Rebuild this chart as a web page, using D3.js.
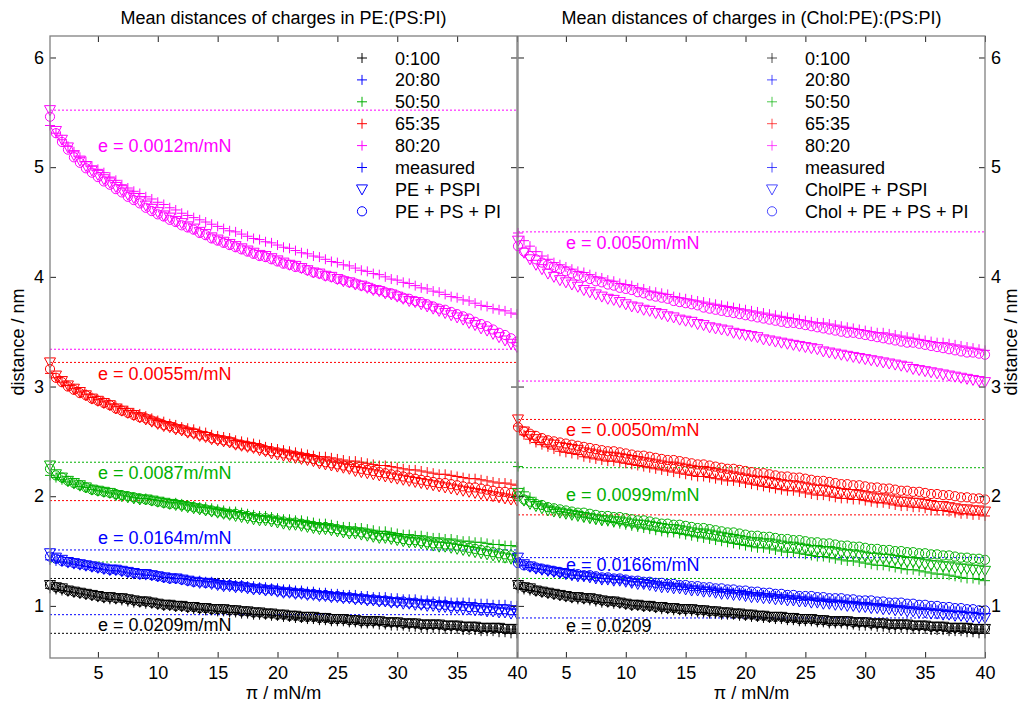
<!DOCTYPE html>
<html>
<head>
<meta charset="utf-8">
<script src="https://cdn.jsdelivr.net/npm/d3@7"></script>
<style>
  body { margin: 0; background: #fff; }
  text { font-family: "Liberation Sans", Arial, Helvetica, sans-serif; }
</style>
</head>
<body>
<svg id="chart" width="1029" height="711"></svg>
<script>
// Surface pressure (mN/m) at which each distance was evaluated
const pressure = [1,1.5,2,2.5,3,3.5,4,4.5,5,5.5,6,6.5,7,7.5,8,8.5,9,9.5,10,10.5,11,11.5,12,12.5,13,13.5,14,14.5,15,15.5,16,16.5,17,17.5,18,18.5,19,19.5,20,20.5,21,21.5,22,22.5,23,23.5,24,24.5,25,25.5,26,26.5,27,27.5,28,28.5,29,29.5,30,30.5,31,31.5,32,32.5,33,33.5,34,34.5,35,35.5,36,36.5,37,37.5,38,38.5,39,39.5,40];

const compositions = ["0:100", "20:80", "50:50", "65:35", "80:20"];
const compColors = ["#000000", "#0000ff", "#00b000", "#ff0000", "#ff00ff"];

// ---- PE:(PS:PI) : measured, PE + PSPI, PE + PS + PI ----
const black0meas = [1.16,1.15,1.14,1.13,1.12,1.11,1.10,1.09,1.08, 1.07,1.06,1.06,1.05,1.04, 1.03,1.03,1.02,1.02,1.01, 1.00,1.00,0.99,0.99,0.98, 0.97,0.97,0.96,0.96,0.95, 0.95,0.94,0.94,0.93,0.93, 0.92,0.92,0.92,0.91,0.91, 0.90,0.90,0.89,0.89,0.88, 0.88,0.87,0.87,0.86,0.86, 0.86,0.85,0.85,0.84,0.84, 0.84,0.83,0.83,0.82,0.82, 0.82,0.81,0.81,0.80,0.80, 0.80,0.80,0.79,0.79,0.79, 0.78,0.78,0.78,0.77,0.77, 0.77,0.76,0.76,0.75,0.75];
const black0model = [1.19,1.17,1.16,1.14,1.13,1.12,1.11,1.10,1.09, 1.08,1.08,1.07,1.07,1.06, 1.05,1.04,1.04,1.03,1.02, 1.01,1.01,1.00,1.00,0.99, 0.99,0.98,0.98,0.97,0.97, 0.97,0.96,0.96,0.95,0.95, 0.94,0.94,0.93,0.93,0.92, 0.92,0.91,0.91,0.90,0.90, 0.90,0.89,0.89,0.88,0.88, 0.88,0.87,0.87,0.86,0.86, 0.86,0.86,0.85,0.85,0.85, 0.84,0.84,0.84,0.83,0.83, 0.83,0.83,0.82,0.82,0.82, 0.81,0.81,0.81,0.80,0.80, 0.80,0.80,0.79,0.79,0.79];

const L20meas = [1.42,1.41,1.40,1.39,1.38,1.37,1.36,1.35,1.34, 1.33,1.32,1.32,1.31,1.30, 1.29,1.29,1.28,1.28,1.27, 1.26,1.26,1.25,1.25,1.24, 1.23,1.23,1.22,1.22,1.21, 1.20,1.20,1.19,1.19,1.18, 1.18,1.17,1.17,1.16,1.16, 1.15,1.15,1.14,1.14,1.13, 1.13,1.12,1.12,1.11,1.11, 1.10,1.10,1.10,1.09,1.09, 1.08,1.08,1.08,1.07,1.07, 1.06,1.06,1.06,1.05,1.05, 1.04,1.04,1.04,1.03,1.03, 1.03,1.03,1.02,1.02,1.02, 1.01,1.01,1.01,1.00,1.00];
const L20tri = [1.48,1.44,1.42,1.40,1.39,1.38,1.37,1.36,1.35, 1.34,1.33,1.33,1.32,1.31, 1.30,1.29,1.29,1.28,1.27, 1.26,1.25,1.25,1.24,1.23, 1.22,1.21,1.21,1.20,1.19, 1.18,1.18,1.17,1.17,1.16, 1.15,1.15,1.14,1.14,1.13, 1.12,1.12,1.11,1.11,1.10, 1.10,1.09,1.09,1.08,1.08, 1.07,1.07,1.06,1.06,1.05, 1.05,1.04,1.04,1.03,1.03, 1.02,1.02,1.01,1.01,1.00, 1.00,0.99,0.99,0.98,0.98, 0.97,0.97,0.96,0.96,0.95, 0.95,0.94,0.94,0.93,0.93];
const L20circ = [1.45,1.43,1.41,1.40,1.39,1.38,1.37,1.36,1.35, 1.34,1.33,1.33,1.32,1.31, 1.30,1.29,1.29,1.28,1.27, 1.26,1.25,1.25,1.24,1.23, 1.22,1.22,1.21,1.21,1.20, 1.19,1.19,1.18,1.18,1.17, 1.16,1.16,1.15,1.15,1.14, 1.13,1.13,1.12,1.12,1.11, 1.11,1.10,1.10,1.09,1.09, 1.08,1.08,1.07,1.07,1.06, 1.06,1.05,1.05,1.04,1.04, 1.04,1.03,1.03,1.02,1.02, 1.02,1.01,1.01,1.00,1.00, 1.00,0.99,0.99,0.98,0.98, 0.98,0.97,0.97,0.96,0.96];

const L50meas = [2.19,2.17,2.15,2.13,2.11,2.09,2.08,2.06,2.05, 2.04,2.03,2.02,2.01,2.00, 1.99,1.98,1.98,1.97,1.96, 1.95,1.94,1.94,1.93,1.92, 1.91,1.90,1.90,1.89,1.88, 1.87,1.86,1.86,1.85,1.84, 1.83,1.82,1.82,1.81,1.80, 1.79,1.79,1.78,1.78,1.77, 1.76,1.75,1.75,1.74,1.73, 1.72,1.72,1.71,1.71,1.70, 1.69,1.68,1.68,1.67,1.66, 1.65,1.65,1.64,1.64,1.63, 1.62,1.62,1.61,1.61,1.60, 1.59,1.59,1.58,1.58,1.57, 1.56,1.56,1.55,1.55,1.54];
const L50tri = [2.28,2.20,2.17,2.14,2.12,2.10,2.08,2.06,2.05, 2.04,2.03,2.01,2.00,1.99, 1.98,1.97,1.97,1.96,1.95, 1.94,1.93,1.92,1.91,1.90, 1.89,1.88,1.87,1.86,1.85, 1.84,1.83,1.82,1.81,1.80, 1.79,1.78,1.78,1.77,1.76, 1.75,1.74,1.74,1.73,1.72, 1.71,1.70,1.70,1.69,1.68, 1.67,1.66,1.66,1.65,1.64, 1.63,1.62,1.62,1.61,1.60, 1.59,1.58,1.58,1.57,1.56, 1.55,1.54,1.54,1.53,1.52, 1.51,1.50,1.49,1.48,1.47, 1.46,1.45,1.44,1.43,1.42];
const L50circ = [2.25,2.19,2.17,2.14,2.12,2.10,2.08,2.06,2.05, 2.04,2.03,2.02,2.01,2.00, 1.99,1.98,1.97,1.96,1.95, 1.94,1.93,1.93,1.92,1.91, 1.90,1.89,1.88,1.87,1.86, 1.85,1.84,1.84,1.83,1.82, 1.81,1.80,1.80,1.79,1.78, 1.77,1.76,1.76,1.75,1.74, 1.73,1.72,1.72,1.71,1.70, 1.69,1.68,1.68,1.67,1.66, 1.65,1.64,1.64,1.63,1.62, 1.61,1.60,1.60,1.59,1.58, 1.57,1.57,1.56,1.56,1.55, 1.54,1.53,1.52,1.51,1.50, 1.49,1.48,1.47,1.46,1.45];

const L65meas = [3.12,3.08,3.04,3.01,2.98,2.95,2.93,2.90,2.88, 2.86,2.84,2.82,2.80,2.78, 2.76,2.75,2.73,2.71,2.69, 2.68,2.66,2.65,2.63,2.62, 2.61,2.59,2.58,2.56,2.55, 2.54,2.53,2.51,2.50,2.49, 2.48,2.47,2.45,2.44,2.43, 2.42,2.41,2.40,2.39,2.38, 2.37,2.36,2.36,2.35,2.34, 2.33,2.32,2.32,2.31,2.30, 2.29,2.28,2.28,2.27,2.26, 2.25,2.24,2.24,2.23,2.22, 2.21,2.20,2.20,2.19,2.18, 2.17,2.16,2.16,2.15,2.14, 2.13,2.12,2.12,2.11,2.10];
const L65tri = [3.22,3.10,3.05,3.01,2.98,2.95,2.92,2.89,2.87, 2.85,2.83,2.80,2.78,2.76, 2.74,2.72,2.70,2.68,2.66, 2.64,2.63,2.61,2.60,2.58, 2.57,2.55,2.54,2.52,2.51, 2.50,2.49,2.47,2.46,2.45, 2.44,2.42,2.41,2.39,2.38, 2.37,2.36,2.35,2.34,2.33, 2.32,2.30,2.29,2.28,2.27, 2.26,2.25,2.23,2.22,2.21, 2.20,2.19,2.18,2.17,2.16, 2.15,2.14,2.13,2.12,2.11, 2.10,2.09,2.08,2.07,2.06, 2.05,2.04,2.03,2.02,2.01, 2.00,1.99,1.98,1.97,1.96];
const L65circ = [3.16,3.08,3.04,3.00,2.97,2.94,2.92,2.89,2.87, 2.85,2.83,2.80,2.78,2.76, 2.74,2.72,2.71,2.69,2.67, 2.65,2.64,2.62,2.61,2.59, 2.58,2.56,2.55,2.53,2.52, 2.51,2.50,2.48,2.47,2.46, 2.45,2.44,2.42,2.41,2.40, 2.39,2.38,2.37,2.36,2.35, 2.34,2.32,2.31,2.30,2.29, 2.28,2.27,2.26,2.25,2.24, 2.23,2.22,2.21,2.20,2.19, 2.18,2.17,2.16,2.15,2.14, 2.13,2.12,2.12,2.11,2.10, 2.09,2.08,2.08,2.07,2.06, 2.05,2.04,2.04,2.03,2.02];

const L80meas = [5.38,5.31,5.25,5.19,5.14,5.09,5.05,5.01,4.98, 4.95,4.91,4.88,4.84,4.81, 4.78,4.76,4.73,4.71,4.68, 4.66,4.63,4.61,4.58,4.56, 4.54,4.52,4.50,4.48,4.46, 4.44,4.42,4.41,4.39,4.37, 4.35,4.34,4.32,4.31,4.29, 4.27,4.26,4.24,4.22,4.21, 4.19,4.18,4.16,4.14,4.13, 4.11,4.10,4.08,4.06,4.05, 4.03,4.02,4.00,3.98,3.97, 3.95,3.94,3.92,3.90,3.89, 3.87,3.86,3.84,3.82,3.81, 3.79,3.78,3.76,3.74,3.73, 3.71,3.70,3.69,3.67,3.66];
const L80tri = [5.52,5.33,5.25,5.18,5.11,5.06,5.01,4.97,4.93, 4.89,4.86,4.82,4.79,4.75, 4.72,4.69,4.65,4.62,4.59, 4.56,4.54,4.51,4.49,4.46, 4.44,4.41,4.39,4.36,4.34, 4.32,4.30,4.28,4.26,4.24, 4.22,4.20,4.19,4.17,4.15, 4.13,4.11,4.10,4.08,4.06, 4.04,4.03,4.01,4.00,3.98, 3.96,3.95,3.93,3.92,3.90, 3.88,3.87,3.85,3.84,3.82, 3.80,3.78,3.77,3.75,3.73, 3.71,3.69,3.67,3.65,3.63, 3.61,3.58,3.56,3.53,3.51, 3.48,3.45,3.42,3.39,3.36];
const L80circ = [5.46,5.31,5.23,5.16,5.09,5.04,4.99,4.95,4.91, 4.87,4.84,4.80,4.77,4.73, 4.70,4.67,4.63,4.60,4.57, 4.55,4.52,4.50,4.47,4.45, 4.43,4.40,4.38,4.35,4.33, 4.31,4.29,4.27,4.25,4.23, 4.21,4.19,4.18,4.16,4.14, 4.12,4.11,4.09,4.08,4.06, 4.04,4.03,4.01,4.00,3.98, 3.97,3.95,3.94,3.92,3.91, 3.89,3.88,3.86,3.85,3.83, 3.81,3.80,3.78,3.77,3.75, 3.73,3.71,3.70,3.68,3.66, 3.64,3.62,3.59,3.57,3.55, 3.52,3.49,3.47,3.44,3.41];

// ---- (Chol:PE):(PS:PI) : measured, CholPE + PSPI, Chol + PE + PS + PI ----
const R20meas = [1.40,1.37,1.35,1.34,1.33,1.32,1.31,1.30,1.29, 1.28,1.28,1.27,1.27,1.26, 1.25,1.25,1.24,1.24,1.23, 1.22,1.22,1.21,1.21,1.20, 1.19,1.19,1.18,1.18,1.17, 1.16,1.16,1.15,1.15,1.14, 1.13,1.13,1.12,1.12,1.11, 1.11,1.10,1.10,1.09,1.09, 1.08,1.08,1.07,1.07,1.06, 1.06,1.05,1.05,1.04,1.04, 1.04,1.03,1.03,1.02,1.02, 1.01,1.01,1.00,1.00,0.99, 0.99,0.98,0.98,0.97,0.97, 0.97,0.96,0.96,0.95,0.95, 0.95,0.94,0.94,0.93,0.93];
const R20tri = [1.44,1.38,1.36,1.34,1.33,1.32,1.31,1.30,1.29, 1.28,1.27,1.27,1.26,1.25, 1.24,1.24,1.23,1.23,1.22, 1.21,1.20,1.20,1.19,1.18, 1.17,1.17,1.16,1.16,1.15, 1.14,1.14,1.13,1.13,1.12, 1.11,1.11,1.10,1.10,1.09, 1.08,1.08,1.07,1.07,1.06, 1.06,1.05,1.05,1.04,1.04, 1.03,1.03,1.02,1.02,1.01, 1.01,1.00,1.00,0.99,0.99, 0.98,0.98,0.97,0.97,0.96, 0.96,0.95,0.95,0.94,0.94, 0.93,0.93,0.92,0.92,0.91, 0.91,0.90,0.90,0.89,0.89];
const R20circ = [1.39,1.37,1.36,1.35,1.34,1.33,1.32,1.31,1.30, 1.29,1.29,1.28,1.28,1.27, 1.26,1.26,1.25,1.25,1.24, 1.23,1.23,1.22,1.22,1.21, 1.21,1.20,1.20,1.19,1.19, 1.18,1.18,1.17,1.17,1.16, 1.16,1.15,1.15,1.14,1.14, 1.13,1.13,1.12,1.12,1.11, 1.11,1.10,1.10,1.09,1.09, 1.09,1.08,1.08,1.07,1.07, 1.07,1.06,1.06,1.05,1.05, 1.05,1.04,1.04,1.03,1.03, 1.03,1.02,1.02,1.01,1.01, 1.00,1.00,0.99,0.99,0.98, 0.98,0.97,0.97,0.96,0.96];

const R50meas = [2.27,2.04,1.99,1.95,1.92,1.90,1.88,1.86,1.85, 1.84,1.83,1.81,1.80,1.79, 1.78,1.77,1.76,1.75,1.74, 1.73,1.72,1.71,1.70,1.69, 1.68,1.67,1.67,1.66,1.65, 1.64,1.63,1.62,1.61,1.60, 1.59,1.58,1.57,1.56,1.55, 1.54,1.53,1.53,1.52,1.51, 1.50,1.49,1.49,1.48,1.47, 1.46,1.45,1.45,1.44,1.43, 1.42,1.41,1.41,1.40,1.39, 1.38,1.37,1.37,1.36,1.35, 1.34,1.33,1.33,1.32,1.31, 1.30,1.29,1.29,1.28,1.27, 1.26,1.25,1.25,1.24,1.23];
const R50tri = [2.03,1.96,1.93,1.91,1.89,1.87,1.86,1.85,1.84, 1.83,1.82,1.81,1.80,1.79, 1.78,1.78,1.77,1.77,1.76, 1.75,1.74,1.74,1.73,1.72, 1.71,1.70,1.70,1.69,1.68, 1.67,1.66,1.66,1.65,1.64, 1.63,1.62,1.61,1.60,1.59, 1.58,1.58,1.57,1.57,1.56, 1.55,1.54,1.54,1.53,1.52, 1.51,1.51,1.50,1.50,1.49, 1.48,1.47,1.47,1.46,1.45, 1.44,1.44,1.43,1.43,1.42, 1.41,1.40,1.40,1.39,1.38, 1.37,1.37,1.36,1.36,1.35, 1.34,1.34,1.33,1.33,1.32];
const R50circ = [2.00,1.97,1.95,1.93,1.92,1.90,1.89,1.88,1.87, 1.86,1.85,1.85,1.84,1.83, 1.82,1.82,1.81,1.81,1.80, 1.79,1.78,1.78,1.77,1.76, 1.75,1.75,1.74,1.74,1.73, 1.72,1.71,1.71,1.70,1.69, 1.68,1.67,1.67,1.66,1.65, 1.64,1.64,1.63,1.63,1.62, 1.61,1.61,1.60,1.60,1.59, 1.58,1.58,1.57,1.57,1.56, 1.55,1.55,1.54,1.54,1.53, 1.52,1.52,1.51,1.51,1.50, 1.50,1.49,1.49,1.48,1.48, 1.47,1.47,1.46,1.46,1.45, 1.44,1.44,1.43,1.43,1.42];

const R65meas = [2.64,2.56,2.52,2.49,2.47,2.45,2.43,2.41,2.40, 2.39,2.38,2.36,2.35,2.34, 2.33,2.32,2.32,2.31,2.30, 2.29,2.28,2.27,2.26,2.25, 2.24,2.23,2.22,2.21,2.20, 2.19,2.18,2.18,2.17,2.16, 2.15,2.14,2.14,2.13,2.12, 2.11,2.10,2.09,2.08,2.07, 2.06,2.05,2.05,2.04,2.03, 2.02,2.01,2.01,2.00,1.99, 1.98,1.98,1.97,1.97,1.96, 1.95,1.94,1.94,1.93,1.92, 1.91,1.91,1.90,1.90,1.89, 1.88,1.87,1.87,1.86,1.85, 1.84,1.84,1.83,1.83,1.82];
const R65tri = [2.70,2.59,2.55,2.52,2.50,2.48,2.47,2.45,2.44, 2.43,2.42,2.40,2.39,2.38, 2.37,2.36,2.36,2.35,2.34, 2.33,2.32,2.31,2.30,2.29, 2.28,2.27,2.27,2.26,2.25, 2.24,2.23,2.23,2.22,2.21, 2.20,2.19,2.18,2.17,2.16, 2.15,2.14,2.14,2.13,2.12, 2.11,2.10,2.10,2.09,2.08, 2.07,2.06,2.06,2.05,2.04, 2.03,2.02,2.02,2.01,2.00, 1.99,1.98,1.98,1.97,1.96, 1.95,1.95,1.94,1.94,1.93, 1.92,1.91,1.91,1.90,1.89, 1.88,1.88,1.87,1.87,1.86];
const R65circ = [2.63,2.59,2.57,2.55,2.53,2.51,2.50,2.49,2.48, 2.47,2.46,2.45,2.44,2.43, 2.42,2.41,2.41,2.40,2.39, 2.38,2.37,2.37,2.36,2.35, 2.34,2.33,2.33,2.32,2.31, 2.30,2.29,2.29,2.28,2.27, 2.26,2.25,2.25,2.24,2.23, 2.22,2.21,2.21,2.20,2.19, 2.18,2.18,2.17,2.17,2.16, 2.15,2.14,2.14,2.13,2.12, 2.11,2.11,2.10,2.10,2.09, 2.08,2.08,2.07,2.07,2.06, 2.05,2.05,2.04,2.04,2.03, 2.02,2.02,2.01,2.01,2.00, 1.99,1.99,1.98,1.98,1.97];

const R80meas = [4.40,4.33,4.28,4.23,4.19,4.16,4.13,4.11,4.09, 4.07,4.05,4.04,4.02,4.00, 3.99,3.97,3.96,3.94,3.93, 3.92,3.90,3.89,3.87,3.86, 3.85,3.84,3.82,3.81,3.80, 3.79,3.78,3.77,3.76,3.75, 3.74,3.73,3.72,3.71,3.70, 3.69,3.68,3.67,3.66,3.65, 3.64,3.63,3.62,3.61,3.60, 3.59,3.58,3.58,3.57,3.56, 3.55,3.54,3.53,3.52,3.51, 3.50,3.49,3.49,3.48,3.47, 3.46,3.45,3.44,3.43,3.42, 3.41,3.40,3.40,3.39,3.38, 3.37,3.36,3.35,3.34,3.33];
const R80tri = [4.33,4.22,4.16,4.11,4.07,4.03,4.00,3.97,3.95, 3.93,3.91,3.88,3.86,3.84, 3.82,3.80,3.79,3.77,3.75, 3.73,3.72,3.70,3.69,3.67, 3.66,3.64,3.63,3.61,3.60, 3.59,3.57,3.56,3.54,3.53, 3.52,3.51,3.49,3.48,3.47, 3.46,3.45,3.43,3.42,3.41, 3.40,3.39,3.38,3.37,3.36, 3.35,3.34,3.32,3.31,3.30, 3.29,3.28,3.27,3.26,3.25, 3.24,3.23,3.22,3.21,3.20, 3.19,3.18,3.16,3.15,3.14, 3.13,3.12,3.11,3.10,3.09, 3.08,3.07,3.06,3.05,3.04];
const R80circ = [4.28,4.23,4.19,4.16,4.13,4.11,4.09,4.07,4.05, 4.03,4.01,4.00,3.98,3.96, 3.95,3.93,3.92,3.90,3.89, 3.88,3.86,3.85,3.83,3.82, 3.81,3.80,3.78,3.77,3.76, 3.75,3.74,3.72,3.71,3.70, 3.69,3.68,3.67,3.66,3.65, 3.64,3.63,3.62,3.61,3.60, 3.59,3.58,3.58,3.57,3.56, 3.55,3.54,3.53,3.52,3.51, 3.50,3.49,3.49,3.48,3.47, 3.46,3.45,3.44,3.43,3.42, 3.41,3.40,3.40,3.39,3.38, 3.37,3.36,3.35,3.34,3.33, 3.32,3.31,3.31,3.30,3.29];

// Horizontal reference distances (upper, lower) per composition
const leftRefLines  = [[1.25, 0.75], [1.51, 0.92], [2.31, 1.40], [3.22, 1.96], [5.52, 3.34]];
const rightRefLines = [[1.25, 0.75], [1.44, 0.89], [2.26, 1.25], [2.70, 1.83], [4.41, 3.05]];

// Compressibility annotations per composition
const leftNotes  = ["e = 0.0209m/mN", "e = 0.0164m/mN", "e = 0.0087m/mN", "e = 0.0055m/mN", "e = 0.0012m/mN"];
const rightNotes = ["e = 0.0209", "e = 0.0166m/mN", "e = 0.0099m/mN", "e = 0.0050m/mN", "e = 0.0050m/mN"];
const leftNoteAt  = [0.83, 1.62, 2.22, 3.12, 5.20];
const rightNoteAt = [0.82, 1.38, 2.02, 2.61, 4.31];

const xTicks = [5, 10, 15, 20, 25, 30, 35, 40];
const yTicks = [1, 2, 3, 4, 5, 6];

// ---------------------------------------------------------------------
const svg = d3.select("#chart");
const FONT = 18;
const plotTop = 36, plotBottom = 658;
const y = d3.scaleLinear().domain([0.525, 6.196]).range([plotBottom, plotTop]);

const panels = [
  {
    x0: 50, x1: 517, side: "left",
    title: "Mean distances of charges in PE:(PS:PI)",
    measured: [black0meas, L20meas, L50meas, L65meas, L80meas],
    tri: [black0model, L20tri, L50tri, L65tri, L80tri],
    circ: [black0model, L20circ, L50circ, L65circ, L80circ],
    refs: leftRefLines, notes: leftNotes, noteAt: leftNoteAt,
    legendX: 362, legendNames: ["PE + PSPI", "PE + PS + PI"], legendOpacity: 1
  },
  {
    x0: 518, x1: 985, side: "right",
    title: "Mean distances of charges in (Chol:PE):(PS:PI)",
    measured: [black0meas, R20meas, R50meas, R65meas, R80meas],
    tri: [black0model, R20tri, R50tri, R65tri, R80tri],
    circ: [black0model, R20circ, R50circ, R65circ, R80circ],
    refs: rightRefLines, notes: rightNotes, noteAt: rightNoteAt,
    legendX: 772, legendNames: ["CholPE + PSPI", "Chol + PE + PS + PI"], legendOpacity: 0.7
  }
];

const plusPath = "M-5,0H5M0,-5V5";
const triPath = "M-5.5,-4.5L5.5,-4.5L0,5.5Z";

function marker(g, kind, cx, cy, color, opacity) {
  if (kind === "circ") {
    return g.append("circle").attr("cx", cx).attr("cy", cy).attr("r", 4.6)
      .attr("fill", "none").attr("stroke", color).attr("stroke-width", 1)
      .attr("opacity", opacity);
  }
  return g.append("path").attr("d", kind === "plus" ? plusPath : triPath)
    .attr("transform", `translate(${cx},${cy})`)
    .attr("fill", "none").attr("stroke", color).attr("stroke-width", 1)
    .attr("opacity", opacity);
}

panels.forEach(p => {
  const g = svg.append("g");
  const x = d3.scaleLinear().domain([1, 40]).range([p.x0, p.x1]);
  const cx = (p.x0 + p.x1) / 2;

  // panel background
  g.append("rect").attr("x", p.x0).attr("y", plotTop)
    .attr("width", p.x1 - p.x0).attr("height", plotBottom - plotTop).attr("fill", "#fff");

  // dotted reference distances
  p.refs.forEach((pair, i) => {
    pair.forEach(v => {
      g.append("line").attr("x1", p.x0).attr("x2", p.x1)
        .attr("y1", y(v)).attr("y2", y(v))
        .attr("stroke", compColors[i]).attr("stroke-width", 1)
        .attr("stroke-dasharray", "2,2");
    });
  });

  // data markers
  compositions.forEach((c, i) => {
    const col = compColors[i];
    const sg = g.append("g");
    [["circ", p.circ[i]], ["tri", p.tri[i]], ["plus", p.measured[i]]].forEach(([kind, vals]) => {
      vals.forEach((v, k) => marker(sg, kind, x(pressure[k]), y(v), col, 1));
    });
  });

  // compressibility notes
  p.notes.forEach((t, i) => {
    g.append("text").attr("x", x(5)).attr("y", y(p.noteAt[i]) + 6.5)
      .attr("font-size", FONT).attr("fill", compColors[i]).text(t);
  });

  // axes (ticks point inward on every side)
  const axB = g.append("g").attr("transform", `translate(0,${plotBottom})`)
    .call(d3.axisBottom(x).tickValues(xTicks).tickSize(-6).tickPadding(8));
  const axT = g.append("g").attr("transform", `translate(0,${plotTop})`)
    .call(d3.axisTop(x).tickValues(xTicks).tickSize(-6).tickFormat(""));
  const axL = g.append("g").attr("transform", `translate(${p.x0},0)`)
    .call(d3.axisLeft(y).tickValues(yTicks).tickSize(-6).tickPadding(6)
      .tickFormat(p.side === "left" ? d3.format("d") : ""));
  const axR = g.append("g").attr("transform", `translate(${p.x1},0)`)
    .call(d3.axisRight(y).tickValues(yTicks).tickSize(-6).tickPadding(6)
      .tickFormat(p.side === "right" ? d3.format("d") : ""));
  [axB, axT, axL, axR].forEach(a => {
    a.select(".domain").remove();
    a.selectAll(".tick line").attr("stroke", "#222");
    a.selectAll("text").attr("font-size", FONT).attr("fill", "#000")
      .attr("font-family", '"Liberation Sans", Arial, sans-serif');
  });

  // box
  g.append("rect").attr("x", p.x0).attr("y", plotTop)
    .attr("width", p.x1 - p.x0).attr("height", plotBottom - plotTop)
    .attr("fill", "none").attr("stroke", "#808080").attr("stroke-width", 1.3);

  // legend
  const rowY = d => 58 + d * 21.9;
  const legendItems = compositions.map((c, i) => ({ kind: "plus", color: compColors[i], label: c }))
    .concat([
      { kind: "plus", color: "#0000ff", label: "measured" },
      { kind: "tri", color: "#0000ff", label: p.legendNames[0] },
      { kind: "circ", color: "#0000ff", label: p.legendNames[1] }
    ]);
  const lg = g.append("g");
  legendItems.forEach((it, d) => {
    marker(lg, it.kind, p.legendX, rowY(d), it.color, p.legendOpacity);
    lg.append("text").attr("x", p.legendX + 33).attr("y", rowY(d) + 6.5)
      .attr("font-size", FONT).attr("fill", "#000").text(it.label);
  });

  // titles and axis labels
  g.append("text").attr("x", cx).attr("y", 24).attr("text-anchor", "middle")
    .attr("font-size", FONT).text(p.title);
  g.append("text").attr("x", cx).attr("y", 699).attr("text-anchor", "middle")
    .attr("font-size", FONT).text("π / mN/m");
  const ylx = p.side === "left" ? 24 : 1017;
  g.append("text").attr("transform", `translate(${ylx},342) rotate(-90)`)
    .attr("text-anchor", "middle").attr("font-size", FONT).text("distance / nm");
});
</script>
</body>
</html>
